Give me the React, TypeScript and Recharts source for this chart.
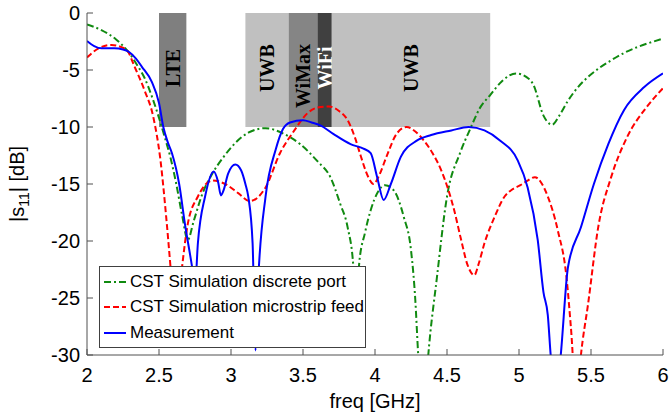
import React from 'react';
import { LineChart, Line, XAxis, YAxis, ReferenceArea } from 'recharts';

// [frequency GHz, |s11| dB]
const discretePort: [number, number][] = [
  [2.0, -1.0], [2.1, -1.5], [2.2, -2.3], [2.28, -3.3], [2.35, -4.6], [2.4, -5.7], [2.45, -7.3],
  [2.5, -9.2], [2.54, -10.9], [2.58, -12.7], [2.62, -15.0], [2.66, -17.7], [2.7, -19.9],
  [2.74, -18.3], [2.8, -15.9], [2.87, -14.1], [2.95, -12.6], [3.03, -11.4], [3.12, -10.5],
  [3.24, -10.1], [3.35, -10.5], [3.48, -11.5], [3.6, -13.0], [3.69, -14.4], [3.76, -16.8],
  [3.81, -18.8], [3.85, -22.3], [3.87, -27.0], [3.89, -22.0], [3.93, -19.3], [3.97, -17.3],
  [4.02, -15.7], [4.07, -15.1], [4.13, -15.55], [4.2, -17.9], [4.25, -20.8], [4.28, -25.2],
  [4.3, -30.0], [4.335, -36.0], [4.37, -30.0], [4.43, -23.2], [4.5, -16.1], [4.59, -12.3],
  [4.66, -10.2], [4.73, -8.3], [4.8, -7.2], [4.88, -6.0], [4.98, -5.3], [5.05, -5.6],
  [5.1, -6.3], [5.17, -9.0], [5.23, -9.8], [5.28, -9.0], [5.34, -7.7], [5.41, -6.5],
  [5.48, -5.6], [5.56, -4.8], [5.64, -4.15], [5.73, -3.5], [5.82, -3.0], [5.91, -2.6], [6.0, -2.25],
];

const microstripFeed: [number, number][] = [
  [2.0, -3.9], [2.08, -3.1], [2.17, -2.8], [2.24, -3.0], [2.28, -3.3], [2.33, -4.7], [2.4, -6.8],
  [2.46, -9.1], [2.51, -12.9], [2.55, -17.9], [2.58, -22.3], [2.615, -28.0], [2.66, -22.3],
  [2.7, -18.5], [2.77, -16.1], [2.87, -14.7], [2.96, -15.0], [3.05, -15.8], [3.13, -16.5],
  [3.24, -15.3], [3.34, -12.3], [3.44, -10.3], [3.53, -8.8], [3.6, -8.3], [3.68, -8.2],
  [3.75, -8.6], [3.81, -9.4], [3.86, -10.9], [3.9, -12.5], [3.95, -14.3], [3.99, -15.0],
  [4.03, -14.2], [4.08, -12.6], [4.15, -10.6], [4.22, -10.0], [4.28, -10.4], [4.34, -11.2],
  [4.4, -12.3], [4.46, -13.8], [4.55, -17.3], [4.6, -20.0], [4.64, -22.0], [4.69, -23.0],
  [4.72, -22.0], [4.76, -20.2], [4.83, -17.9], [4.9, -16.1], [4.95, -15.5], [5.01, -15.1],
  [5.06, -14.7], [5.11, -14.4], [5.16, -15.0], [5.2, -16.1], [5.27, -19.1], [5.33, -23.2],
  [5.36, -27.5], [5.4, -34.0], [5.43, -30.0], [5.48, -25.5], [5.55, -18.8], [5.64, -14.4],
  [5.75, -10.9], [5.89, -8.2], [6.0, -6.6],
];

const measurement: [number, number][] = [
  [2.0, -2.45], [2.05, -2.9], [2.1, -3.1], [2.19, -3.1], [2.25, -3.2], [2.29, -3.4], [2.34, -4.0],
  [2.38, -4.7], [2.45, -6.05], [2.5, -7.9], [2.53, -10.0], [2.56, -11.3], [2.59, -12.3],
  [2.64, -15.0], [2.68, -18.5], [2.73, -22.3], [2.75, -24.0], [2.77, -20.2], [2.82, -16.1],
  [2.88, -13.9], [2.91, -14.8], [2.93, -16.0], [2.95, -15.5], [2.98, -14.1], [3.03, -13.3],
  [3.07, -13.8], [3.1, -15.0], [3.12, -16.1], [3.15, -20.2], [3.17, -29.6], [3.19, -23.2],
  [3.24, -16.1], [3.31, -12.0], [3.36, -10.2], [3.41, -9.6], [3.5, -9.4], [3.56, -9.6],
  [3.62, -9.85], [3.71, -10.6], [3.83, -11.5], [3.92, -11.9], [3.97, -12.3], [4.015, -14.4],
  [4.06, -16.4], [4.11, -15.0], [4.18, -12.6], [4.29, -11.2], [4.39, -10.7], [4.53, -10.3],
  [4.65, -10.0], [4.76, -10.3], [4.87, -11.2], [4.99, -12.9], [5.06, -15.3], [5.13, -19.9],
  [5.17, -24.5], [5.2, -26.5], [5.22, -30.0], [5.255, -34.0], [5.29, -30.0], [5.34, -22.3],
  [5.43, -18.8], [5.52, -15.0], [5.62, -11.5], [5.73, -8.5], [5.87, -6.5], [6.0, -5.3],
];

const bands = [
  { name: 'LTE', from: 2.5, to: 2.69, fill: '#7f7f7f', text: '#000' },
  { name: 'UWB', from: 3.1, to: 3.4, fill: '#c0c0c0', text: '#000' },
  { name: 'WiMax', from: 3.4, to: 3.6, fill: '#858585', text: '#000' },
  { name: 'WiFi', from: 3.6, to: 3.7, fill: '#404040', text: '#fff' },
  { name: 'UWB', from: 3.7, to: 4.8, fill: '#c0c0c0', text: '#000' },
];
const bandTop = 0;
const bandBottom = -10;

const xTicks = [2, 2.5, 3, 3.5, 4, 4.5, 5, 5.5, 6];
const yTicks = [-30, -25, -20, -15, -10, -5, 0];

const seriesNames = ['CST Simulation discrete port', 'CST Simulation microstrip feed', 'Measurement'];
const seriesColors = ['#108a10', '#ff0000', '#0000ff'];
const seriesDash = ['7 3 2 3', '6 3', undefined];

const toRows = (arr: [number, number][]) => arr.map(([f, v]) => ({ f, v }));

const FONT = 'Liberation Sans, Arial, sans-serif';
const AXIS = '#505050';
const TICK = 6;

const BottomTick = (props: any) => {
  const { x, y, payload } = props;
  return (
    <g>
      <line x1={x} y1={y} x2={x} y2={y - TICK} stroke={AXIS} strokeWidth={1} />
      <text x={x} y={y + 27} textAnchor="middle" fontSize={20} fontFamily={FONT} fill="#000">
        {payload.value}
      </text>
    </g>
  );
};
const TopTick = (props: any) => {
  const { x, y } = props;
  return <line x1={x} y1={y} x2={x} y2={y + TICK} stroke={AXIS} strokeWidth={1} />;
};
const LeftTick = (props: any) => {
  const { x, y, payload } = props;
  return (
    <g>
      <line x1={x} y1={y} x2={x + TICK} y2={y} stroke={AXIS} strokeWidth={1} />
      <text x={x - 7} y={y + 7} textAnchor="end" fontSize={20} fontFamily={FONT} fill="#000">
        {payload.value}
      </text>
    </g>
  );
};
const RightTick = (props: any) => {
  const { x, y } = props;
  return <line x1={x} y1={y} x2={x - TICK} y2={y} stroke={AXIS} strokeWidth={1} />;
};

const BandLabel = (props: any) => {
  const { viewBox, text, color } = props;
  if (!viewBox) return null;
  const cx = viewBox.x + viewBox.width / 2;
  const cy = viewBox.y + (text === 'WiMax' ? 63 : 55);
  return (
    <text
      x={cx}
      y={cy}
      transform={`rotate(-90, ${cx}, ${cy})`}
      textAnchor="middle"
      dominantBaseline="central"
      fontFamily="Liberation Serif, Times New Roman, serif"
      fontWeight="bold"
      fontSize={20}
      fill={color}
    >
      {text}
    </text>
  );
};

const YLabel = () => {
  const cx = 24;
  const cy = 184;
  return (
    <text
      x={cx}
      y={cy}
      transform={`rotate(-90, ${cx}, ${cy})`}
      textAnchor="middle"
      fontSize={20}
      fontFamily={FONT}
      fill="#000"
    >
      |s
      <tspan fontSize={14} dy={5}>11</tspan>
      <tspan dy={-5}>| [dB]</tspan>
    </text>
  );
};

const LegendBox = () => (
  <div
    style={{
      position: 'absolute',
      left: 99,
      top: 266,
      width: 265,
      height: 78,
      background: '#fff',
      border: '1px solid #404040',
      fontFamily: FONT,
      fontSize: 17,
      color: '#000',
      boxSizing: 'content-box',
      paddingTop: 2,
    }}
  >
    {seriesNames.map((n, i) => (
      <div key={n} style={{ display: 'flex', alignItems: 'center', height: 25.5, whiteSpace: 'nowrap' }}>
        <svg width={26} height={10} style={{ marginLeft: 3, marginRight: 1 }}>
          <line x1={1} y1={5} x2={23} y2={5} stroke={seriesColors[i]} strokeWidth={2} strokeDasharray={seriesDash[i]} />
        </svg>
        <span>{n}</span>
      </div>
    ))}
  </div>
);

export default function App() {
  const series = [discretePort, microstripFeed, measurement];
  return (
    <div style={{ position: 'absolute', left: 0, top: 0, width: 669, height: 415, background: '#fff' }}>
      <LineChart width={669} height={415} margin={{ top: 13, right: 6, bottom: 0, left: 0 }}>
        <XAxis
          dataKey="f"
          type="number"
          domain={[2, 6]}
          ticks={xTicks}
          allowDataOverflow
          height={60}
          tickSize={0}
          tickMargin={0}
          tickLine={false}
          axisLine={{ stroke: AXIS }}
          tick={<BottomTick />}
          label={{
            value: 'freq [GHz]',
            position: 'insideBottom',
            offset: 7,
            fontSize: 20,
            fontFamily: FONT,
            fill: '#000',
          }}
        />
        <XAxis
          xAxisId="top"
          orientation="top"
          dataKey="f"
          type="number"
          domain={[2, 6]}
          ticks={xTicks}
          height={0}
          tickSize={0}
          tickMargin={0}
          tickLine={false}
          axisLine={{ stroke: AXIS }}
          tick={<TopTick />}
        />
        <YAxis
          type="number"
          domain={[-30, 0]}
          ticks={yTicks}
          allowDataOverflow
          width={87}
          tickSize={0}
          tickMargin={0}
          tickLine={false}
          axisLine={{ stroke: AXIS }}
          tick={<LeftTick />}
          label={{ content: () => <YLabel /> }}
        />
        <YAxis
          yAxisId="right"
          orientation="right"
          type="number"
          domain={[-30, 0]}
          ticks={yTicks}
          width={0}
          tickSize={0}
          tickMargin={0}
          tickLine={false}
          axisLine={{ stroke: AXIS }}
          tick={<RightTick />}
        />
        {bands.map((b, i) => (
          <ReferenceArea
            key={i}
            x1={b.from}
            x2={b.to}
            y1={bandBottom}
            y2={bandTop}
            fill={b.fill}
            fillOpacity={1}
            stroke="none"
            label={<BandLabel text={b.name} color={b.text} />}
          />
        ))}
        {series.map((s, i) => (
          <Line
            key={seriesNames[i]}
            data={toRows(s)}
            dataKey="v"
            name={seriesNames[i]}
            type="monotone"
            stroke={seriesColors[i]}
            strokeWidth={2}
            strokeDasharray={seriesDash[i]}
            dot={false}
            activeDot={false}
            isAnimationActive={false}
          />
        ))}
      </LineChart>
      <LegendBox />
    </div>
  );
}
